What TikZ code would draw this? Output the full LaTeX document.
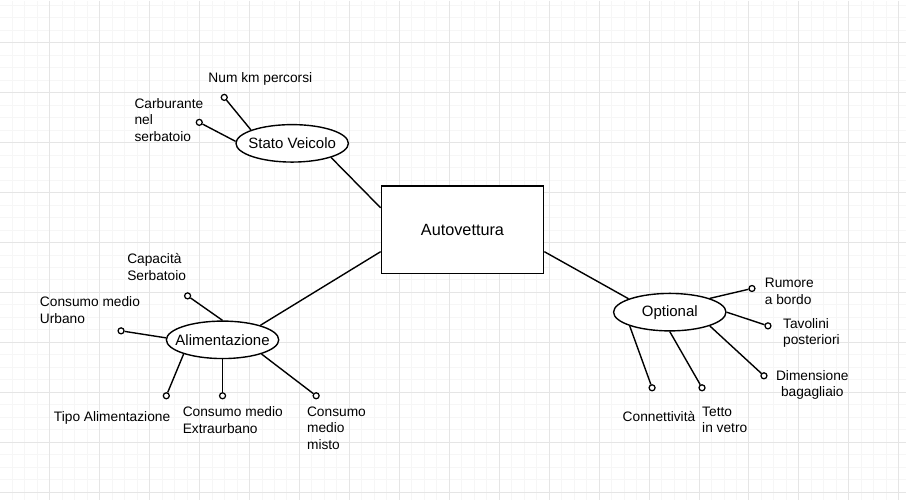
\documentclass[tikz,border=0pt]{standalone}
\usepackage{fontspec}
\setmainfont{Liberation Sans}
\usetikzlibrary{shapes.geometric}

\tikzstyle{erfig}=[x=1pt,y=-1pt,font=\fontsize{13.75}{16.5}\selectfont]
\tikzstyle{entity}=[draw,line width=1.4pt,fill=white,minimum width=162.5pt,minimum height=87.5pt,font=\fontsize{16.25}{19.5}\selectfont]
\tikzstyle{relbox}=[ellipse,draw,line width=1.4pt,fill=white,minimum width=112.5pt,minimum height=37.5pt,inner xsep=-8pt,inner ysep=0pt,font=\fontsize{15}{18}\selectfont]
\tikzstyle{attr}=[circle,draw,line width=1.25pt,fill=white,minimum size=6pt,inner sep=0pt]
\tikzstyle{lbl}=[anchor=west,align=left,inner sep=0pt]
\tikzstyle{link}=[line width=1.4pt]

\begin{document}
\begin{tikzpicture}[style=erfig]
\fill [white] (0,0) rectangle (906,500);
\foreach \x in {11.8,24.3,...,906} \draw[black!3.5,line width=1pt] (\x,0) -- (\x,500);
\foreach \y in {4.8,17.3,...,500} \draw[black!3.5,line width=1pt] (0,\y) -- (906,\y);
\foreach \x in {49.3,99.3,...,906} \draw[black!10,line width=1pt] (\x,0) -- (\x,500);
\foreach \y in {42.3,92.3,...,500} \draw[black!10,line width=1pt] (0,\y) -- (906,\y);

\node[entity] (auto) at (462.5,229.5) {Autovettura};
\node[relbox] (stato) at (292,143) {Stato Veicolo};
\node[relbox] (alim) at (222.3,339.7) {Alimentazione};
\node[relbox] (opt) at (670,312) {Optional};

\draw[link] (stato.-20) -- (auto.165);
\draw[link] (alim.21) -- (auto.195);
\draw[link] (opt.162) -- (auto.345);

\node[attr] (km) at (224,97) {};
\node[attr] (carb) at (199,122) {};
\node[attr] (cap) at (187.3,295.7) {};
\node[attr] (urb) at (120.7,330.7) {};
\node[attr] (tipo) at (166,395.7) {};
\node[attr] (extra) at (222.3,395.7) {};
\node[attr] (misto) at (316,395.7) {};
\node[attr] (rum) at (752.3,288.3) {};
\node[attr] (tav) at (768.3,325.7) {};
\node[attr] (dim) at (764.3,375.7) {};
\node[attr] (conn) at (652.3,387.7) {};
\node[attr] (tetto) at (702.3,387.7) {};

\draw[link] (km) -- (stato.162);
\draw[link] (carb) -- (stato.178);
\draw[link] (cap) -- (alim.north);
\draw[link] (urb) -- (alim.178);
\draw[link] (tipo) -- (alim.200);
\draw[link] (extra) -- (alim.south);
\draw[link] (misto) -- (alim.-20);
\draw[link] (rum) -- (opt.19);
\draw[link] (tav) -- (opt.east);
\draw[link] (dim) -- (opt.-19);
\draw[link] (conn) -- (opt.199);
\draw[link] (tetto) -- (opt.south);

\node[lbl] (kmtxt) at (208,79) {Num km percorsi};
\node[lbl] (carbtxt) at (134,119.5) {Carburante\\nel\\serbatoio};
\node[lbl] (captxt) at (126.7,267) {Capacità\\Serbatoio};
\node[lbl] (urbtxt) at (39.3,310) {Consumo medio\\Urbano};
\node[lbl] (tipotxt) at (53.3,418.3) {Tipo Alimentazione};
\node[lbl] (extratxt) at (182.3,420) {Consumo medio\\Extraurbano};
\node[lbl] (mistotxt) at (306.7,428) {Consumo\\medio\\misto};
\node[lbl] (rumtxt) at (765,291.3) {Rumore\\a bordo};
\node[lbl] (tavtxt) at (783.3,333) {Tavolini\\posteriori};
\node[lbl,anchor=center,align=center] (dimtxt) at (812.7,384.7) {Dimensione\\bagagliaio};
\node[lbl] (conntxt) at (622.7,416) {Connettività};
\node[lbl] (tettotxt) at (702.3,419.7) {Tetto\\in vetro};
\end{tikzpicture}
\end{document}
